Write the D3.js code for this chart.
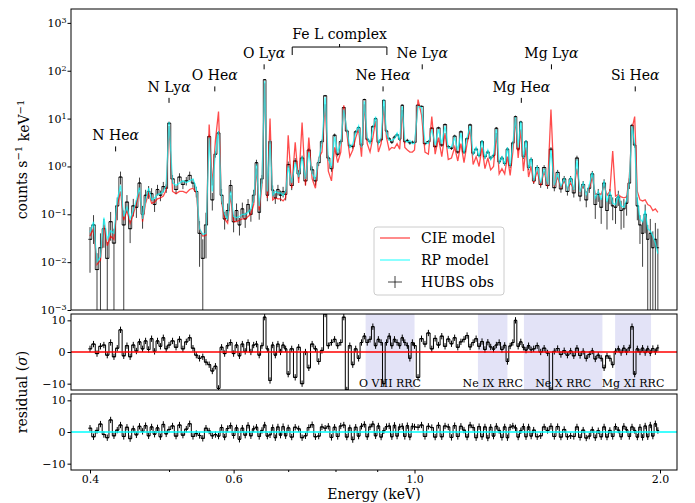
<!DOCTYPE html>
<html>
<head>
<meta charset="utf-8">
<script src="https://cdn.jsdelivr.net/npm/d3@7"></script>
<style>
  body { margin: 0; background: #fff; }
  text { font-family: 'DejaVu Serif', serif; fill: #000; }
</style>
</head>
<body>
<div id="visual"></div>
<script>
// channel energies (keV)
const energy = [
  0.400,0.404,0.408,0.412,0.416,0.420,0.424,0.428,0.432,0.436,0.440,0.444,0.448,0.452,0.456,0.460,0.464,0.468,0.472,0.476,0.480,0.484,0.488,0.492,0.496,
  0.500,0.505,0.510,0.515,0.520,0.525,0.530,0.535,0.540,0.545,0.550,0.555,0.560,0.565,0.570,0.575,0.580,0.585,0.590,0.595,0.600,0.605,0.610,0.615,0.620,0.625,0.630,0.635,0.640,0.645,0.650,0.655,0.660,0.665,0.670,0.675,0.680,0.685,0.690,0.695,
  0.700,0.707,0.714,0.721,0.728,0.735,0.742,0.749,0.756,0.763,0.770,0.777,0.784,0.791,0.798,0.805,0.812,0.819,0.826,0.833,0.840,0.847,0.854,0.861,0.868,0.875,0.882,0.889,0.896,0.903,0.910,0.917,0.924,0.931,0.938,0.945,0.952,0.959,0.966,0.973,0.980,0.987,0.994,
  1.00,1.01,1.02,1.03,1.04,1.05,1.06,1.07,1.08,1.09,1.10,1.11,1.12,1.13,1.14,1.15,1.16,1.17,1.18,1.19,1.20,1.21,1.22,1.23,1.24,1.25,1.26,1.27,1.28,1.29,1.30,1.31,1.32,1.33,1.34,1.35,1.36,1.37,1.38,1.39,
  1.400,1.414,1.428,1.442,1.456,1.470,1.484,1.498,1.512,1.526,1.540,1.554,1.568,1.582,1.596,1.610,1.624,1.638,1.652,1.666,1.680,1.694,1.708,1.722,1.736,1.750,1.764,1.778,1.792,1.806,1.820,1.834,1.848,1.862,1.876,1.890,1.904,1.918,1.932,1.946,1.960,1.974,1.988
];

// RP model (counts s^-1 keV^-1)
const rpModel = [
  0.042,0.070,0.010,0.013,0.085,0.030,0.045,0.040,0.20,0.40,0.09,0.14,0.08,0.12,0.20,0.36,0.08,0.20,0.35,0.20,0.22,0.26,0.27,0.30,0.40,
  8.5,0.46,0.40,0.45,0.50,0.46,0.50,0.55,0.35,0.05,0.038,0.040,4.0,0.30,2.0,5.5,0.20,0.10,0.08,0.30,0.09,0.085,0.09,0.10,0.10,0.11,0.13,0.20,1.1,0.15,0.50,60,0.30,3.5,0.25,0.30,0.28,0.28,0.25,0.30,
  1.0,0.45,1.2,0.60,1.6,0.55,2.0,0.70,0.55,1.4,3.0,28,1.4,1.0,4.2,2.0,3.0,15.5,6.0,2.5,3.0,5.0,7.0,2.5,23,4.0,3.0,6.0,11,3.0,4.0,25,5.0,3.5,3.5,3.8,5.0,3.5,18,3.5,3.2,3.5,3.0,
  3.0,18,17,3.2,3.0,6,2.8,6,3.0,7,2.4,2.6,4,2.2,5,1.9,4,7,1.8,2.5,1.6,3.5,1.5,2.2,1.4,1.8,6,1.2,1.6,1.1,2.5,1.0,3,10.6,2.5,8.7,1.5,3.5,0.9,1.5,
  0.5,1.0,0.45,0.9,0.42,2.2,0.40,0.7,0.38,0.55,0.34,0.6,0.32,1.4,0.29,0.45,0.26,0.4,0.75,0.22,0.3,0.2,0.5,0.18,0.3,0.17,0.16,0.25,0.15,0.14,0.2,0.5,7,3,0.2,0.08,0.07,0.12,0.05,0.045,0.035,0.025,0.015
];

// CIE model
const cieModel = [
  0.035,0.05,0.009,0.011,0.06,0.022,0.035,0.03,0.15,0.3,0.075,0.12,0.065,0.1,0.17,0.3,0.07,0.17,0.28,0.17,0.18,0.21,0.22,0.24,0.32,
  7.0,0.30,0.27,0.30,0.30,0.28,0.33,0.35,0.28,0.05,0.035,0.036,7.5,0.40,3.5,14,0.18,0.08,0.065,0.25,0.07,0.07,0.075,0.08,0.08,0.09,0.10,0.16,0.9,0.12,0.4,55,0.22,10,0.2,0.22,0.21,0.21,0.19,0.22,
  4.5,0.35,3.2,0.45,8.3,0.40,4.0,0.55,0.35,1.5,2.0,20,0.8,0.5,2.5,1.2,2.0,19,5.0,1.6,2.2,4.0,6.0,1.6,20,3.0,2.0,4.0,9,2.0,3.0,18,4.0,2.2,2.5,2.4,3.0,2.3,15,2.5,2.2,2.0,2.0,
  2.2,25,12,2.0,1.8,11,1.8,4,1.6,5,1.4,1.5,2.5,1.3,3,1.2,3,6,1.1,1.6,1.0,2.5,0.9,1.5,0.85,1.0,5,0.7,0.9,0.7,1.6,0.65,2,10,1.5,6,0.8,2.5,0.6,1.0,
  0.45,0.8,0.4,0.8,0.38,15.5,0.38,0.6,0.36,0.5,0.34,0.45,0.33,0.9,0.30,0.4,0.28,0.35,0.6,0.26,0.28,0.26,0.4,0.25,0.3,2.1,0.24,0.26,0.23,0.22,0.23,0.6,6,11,0.3,0.2,0.19,0.2,0.16,0.15,0.12,0.13,0.11
];

// HUBS observation and relative 1-sigma error
const hubsObs = [
  0.030,0.060,0.007,0.020,0.050,0.012,0.070,0.025,0.15,0.60,0.06,0.18,0.05,0.15,0.14,0.45,0.10,0.25,0.30,0.27,0.16,0.33,0.25,0.38,0.35,
  8.0,0.55,0.33,0.60,0.42,0.50,0.65,0.45,0.30,0.04,0.012,0.060,4.2,0.20,1.8,5.0,0.25,0.08,0.12,0.40,0.07,0.12,0.06,0.13,0.08,0.16,0.10,0.25,1.2,0.11,0.55,65,0.25,3.3,0.32,0.22,0.33,0.25,0.30,0.26,
  1.1,0.40,1.3,0.70,1.5,0.50,2.2,0.85,0.50,1.2,3.3,30,1.5,0.9,4.5,1.8,3.3,17,5.5,2.7,2.6,5.3,6.5,2.8,25,3.7,3.3,6.8,10,3.2,3.6,24,5.5,3.8,3.2,4.1,4.6,3.7,19,3.3,3.5,3.1,3.2,
  3.2,19,18,3.0,3.3,6.3,2.6,6.4,2.8,7.5,2.6,2.4,4.3,2.0,5.3,2.0,3.8,7.4,1.9,2.3,1.7,3.3,1.6,2.0,1.5,1.7,6.3,1.25,1.5,1.15,2.3,1.05,3.1,11,2.3,8.5,1.6,3.3,0.95,1.4,
  0.5,0.95,0.42,0.95,0.40,2.3,0.36,0.75,0.34,0.55,0.30,0.55,0.28,1.5,0.24,0.42,0.20,0.35,0.70,0.16,0.26,0.14,0.45,0.12,0.25,0.15,0.14,0.23,0.12,0.13,0.17,0.45,7.2,2.8,0.15,0.06,0.04,0.10,0.03,0.04,0.02,0.03,0.02
];
const hubsErr = [
  0.8,0.6,1.2,1.0,0.6,1.2,0.6,1.0,0.5,0.3,1.0,0.4,0.5,0.4,0.4,0.3,0.5,0.3,0.3,0.3,0.3,0.25,0.25,0.25,0.2,
  0.08,0.2,0.2,0.2,0.2,0.2,0.2,0.2,0.25,0.8,1.5,0.8,0.1,0.4,0.15,0.1,0.35,0.4,0.4,0.3,0.4,0.4,0.4,0.35,0.35,0.3,0.3,0.3,0.15,0.3,0.2,0.03,0.25,0.1,0.25,0.25,0.25,0.25,0.25,0.25,
  0.15,0.2,0.15,0.2,0.12,0.2,0.12,0.18,0.2,0.15,0.1,0.04,0.12,0.14,0.08,0.1,0.1,0.05,0.07,0.1,0.1,0.08,0.07,0.1,0.04,0.08,0.09,0.07,0.06,0.09,0.08,0.04,0.07,0.08,0.08,0.08,0.07,0.08,0.04,0.08,0.08,0.08,0.08,
  0.08,0.04,0.04,0.08,0.08,0.06,0.08,0.06,0.08,0.06,0.08,0.08,0.07,0.08,0.07,0.09,0.07,0.06,0.09,0.08,0.09,0.08,0.1,0.09,0.1,0.09,0.06,0.1,0.1,0.1,0.08,0.11,0.08,0.05,0.08,0.06,0.1,0.08,0.12,0.1,
  0.14,0.12,0.15,0.12,0.15,0.1,0.16,0.13,0.17,0.15,0.18,0.15,0.2,0.12,0.22,0.18,0.3,0.2,0.15,0.5,0.3,0.55,0.2,0.6,0.35,0.5,0.55,0.35,0.6,0.6,0.45,0.25,0.08,0.12,0.5,0.6,0.8,0.6,1.0,1.0,1.2,1.2,1.5
];

// residuals in sigma
const resCie = [
  1.0,2.5,-0.5,1.8,2.2,-1.0,3.0,-1.5,1.2,7.0,-1.2,2.0,-1.5,2.2,0.3,3.2,1.0,3.5,0.8,4.2,0.2,3.5,1.8,4.5,1.0,
  2.2,3.5,1.5,4.0,1.0,3.2,4.5,1.2,-1.0,-2.0,-1.5,-3.2,-4.0,-6.0,-4.5,-11.5,1.5,-0.5,2.0,3.0,-0.5,2.2,-1.2,2.5,0.2,3.0,0.0,2.2,2.5,-1.0,2.0,11.0,1.0,-9.0,2.2,-1.0,2.5,0.0,2.2,1.0,
  -7.0,1.0,-8.0,1.5,-10.0,0.0,-5.0,2.5,1.0,-3.0,0.5,12.0,2.0,3.0,4.0,2.0,3.0,11.0,-12.0,2.0,-4.0,1.0,-2.0,3.0,5.0,3.0,4.0,8.0,2.0,4.0,3.0,-10.0,3.0,5.0,2.0,4.0,3.0,2.0,4.5,3.0,2.0,-2.0,3.0,
  2.0,-8.0,4.2,2.5,6.0,1.0,4.3,2.2,5.0,1.8,4.1,2.6,4.5,1.5,3.2,4.0,5.2,1.6,3.0,4.2,1.8,3.3,0.8,3.1,1.6,0.9,2.2,3.0,0.8,2.1,-3.0,1.9,3.0,10.0,1.8,3.2,1.5,0.6,2.0,0.7,
  1.0,2.0,0.0,1.2,-0.3,-12.0,0.2,1.1,-0.8,0.4,-1.0,0.3,-1.2,1.2,-1.1,0.2,-2.0,-0.8,0.3,-2.2,-1.0,-2.0,-5.0,-1.2,-2.0,-4.0,0.2,1.0,-0.2,1.2,0.0,1.3,8.0,-7.0,1.0,0.0,1.2,-0.2,1.0,-0.3,1.1,0.1,1.3
];
const resRp = [
  1.2,-1.5,0.5,2.5,-0.8,-1.8,3.8,-1.2,0.6,2.2,-1.4,1.5,-2.1,1.0,-0.9,1.8,0.2,2.0,-1.2,1.6,-0.7,1.3,-1.5,2.4,-0.6,
  0.8,1.9,-1.3,2.2,-1.0,0.9,2.6,-1.4,-0.5,-1.1,-2.0,1.2,0.3,-1.2,-0.8,-1.3,1.4,-1.6,1.1,2.0,-1.1,1.3,-2.3,1.2,-1.0,2.1,-1.2,1.0,1.5,-1.4,0.5,2.2,-1.3,-0.9,1.4,-1.8,1.6,-1.0,1.7,-1.2,
  1.3,-1.6,1.5,1.0,-1.8,-1.2,1.4,2.3,-1.5,-1.3,1.6,1.2,1.8,-1.7,1.5,-1.4,1.9,2.2,-1.6,1.3,-2.4,1.5,-1.3,1.8,2.4,-1.5,1.6,2.5,-1.2,1.9,-1.6,0.4,1.7,1.9,-1.5,2.1,-1.3,1.6,1.8,-1.4,2.0,-1.6,1.8,
  1.6,1.5,2.2,-1.4,1.8,1.4,-1.6,2.1,-1.5,1.9,1.6,-1.7,2.0,-1.4,1.8,0.6,-1.6,2.2,1.4,-1.8,1.7,-1.5,1.6,-1.9,1.5,-1.3,1.8,0.5,-1.7,1.6,-1.8,1.5,1.9,1.3,-1.6,0.4,1.7,-1.5,1.6,-1.3,
  0.6,-1.5,-1.2,1.6,0.5,1.8,-1.4,1.7,-1.6,0.8,-1.5,-1.2,-1.4,1.6,-1.7,0.6,-1.9,-1.3,0.7,-1.8,0.4,-1.5,1.6,-1.6,0.5,-1.4,1.7,0.6,-1.5,1.8,0.7,-1.4,1.6,0.5,-1.6,1.5,-1.7,1.9,-1.5,2.2,-1.3,2.6,0.5
];

// line identifications
const lineNames = ["N He", "N Ly", "O He", "O Ly", "Ne He", "Ne Ly", "Mg He", "Mg Ly", "Si He"];
const lineEnergy = [0.430, 0.500, 0.569, 0.654, 0.915, 1.022, 1.352, 1.472, 1.865];
const lineLevel = [2.06, 21.3, 37, 107, 37, 107, 21.3, 107, 37];   // counts, foot of the marker
const feLRange = [0.708, 0.925];
const feLLevel = 313;

// RRC bands in the CIE residual panel
const rrcNames = ["O VIII RRC", "Ne IX RRC", "Ne X RRC", "Mg XI RRC"];
const rrcStart = [0.871, 1.196, 1.362, 1.762];
const rrcEnd = [1.000, 1.300, 1.700, 1.950];

const xTicks = [0.4, 0.6, 1.0, 2.0];
const xMinor = [0.5, 0.7, 0.8, 0.9];
const yDecades = [1e-3, 1e-2, 1e-1, 1, 10, 100, 1000];
const yExp = ["\u22123", "\u22122", "\u22121", "0", "1", "2", "3"];
const resTicks = [-10, 0, 10];

// layout
const W = 695, H = 503;
const L = 71, R = 677;
const main = { top: 9, bot: 310 };
const p1 = { top: 314, bot: 390 };
const p2 = { top: 394, bot: 470 };
const font = "'DejaVu Serif', serif";

const svg = d3.select("#visual").append("svg").attr("width", W).attr("height", H);

const x = d3.scaleLog().domain([0.4, 2.0]).range([90, 660]);
const y = d3.scaleLog().domain([1e-3, 1950]).range([main.bot, main.top]);
const yr1 = d3.scaleLinear().domain([-12, 12]).range([p1.bot, p1.top]);
const yr2 = d3.scaleLinear().domain([-12, 12]).range([p2.bot, p2.top]);

// bin edges from the channel grid
const n = energy.length;
const binLo = energy.map((e, i) => i > 0 ? (energy[i - 1] + e) / 2 : e - (energy[1] - e) / 2);
const binHi = energy.map((e, i) => i < n - 1 ? (e + energy[i + 1]) / 2 : e + (e - energy[i - 1]) / 2);

function clipFor(id, p) {
    svg.append("clipPath").attr("id", id).append("rect")
        .attr("x", L).attr("y", p.top).attr("width", R - L).attr("height", p.bot - p.top);
    return svg.append("g").attr("clip-path", `url(#${id})`);
}

// main spectrum
const gMain = clipFor("clipMain", main);

let pathObs = "";
hubsObs.forEach((v, i) => {
    const lo = v * (1 - hubsErr[i]);
    const hi = v * (1 + hubsErr[i]);
    const xp = x(energy[i]);
    const y1 = lo > 0 ? y(lo) : main.bot + 5;
    pathObs += `M${xp},${y1}V${y(hi)}M${x(binLo[i])},${y(v)}H${x(binHi[i])}`;
});
gMain.append("path").attr("d", pathObs)
    .attr("fill", "none").attr("stroke", "#000").attr("stroke-width", 1).attr("stroke-opacity", 0.75);
// step trace through the data to keep the noisy band continuous
const obsStep = d3.line().curve(d3.curveStep).x((d, i) => x(energy[i])).y(d => y(d));
gMain.append("path").datum(hubsObs).attr("d", obsStep)
    .attr("fill", "none").attr("stroke", "#000").attr("stroke-width", 1).attr("stroke-opacity", 0.75);

const modelLine = d3.line().x((d, i) => x(energy[i])).y(d => y(d));
gMain.append("path").datum(cieModel).attr("d", modelLine)
    .attr("fill", "none").attr("stroke", "#ff0000").attr("stroke-width", 1.3).attr("stroke-opacity", 0.7);
gMain.append("path").datum(rpModel).attr("d", modelLine)
    .attr("fill", "none").attr("stroke", "#00ffff").attr("stroke-width", 1.3).attr("stroke-opacity", 0.7);

// residual panels
function drawResiduals(g, res, ys) {
    let d = "";
    res.forEach((r, i) => {
        const xp = x(energy[i]);
        d += `M${xp},${ys(r - 1)}V${ys(r + 1)}M${x(binLo[i])},${ys(r)}H${x(binHi[i])}`;
    });
    g.append("path").attr("d", d).attr("fill", "none").attr("stroke", "#000").attr("stroke-width", 1);
    const step = d3.line().curve(d3.curveStep).x((v, i) => x(energy[i])).y(v => ys(v));
    g.append("path").datum(res).attr("d", step).attr("fill", "none").attr("stroke", "#000").attr("stroke-width", 1);
}

const g1 = clipFor("clipR1", p1);
g1.selectAll("rect.rrc").data(rrcStart).enter().append("rect")
    .attr("class", "rrc")
    .attr("x", d => x(d)).attr("y", p1.top)
    .attr("width", (d, i) => x(rrcEnd[i]) - x(d)).attr("height", p1.bot - p1.top)
    .attr("fill", "#e3e3f7");
drawResiduals(g1, resCie, yr1);
g1.append("line").attr("x1", L).attr("x2", R).attr("y1", yr1(0)).attr("y2", yr1(0))
    .attr("stroke", "#ff0000").attr("stroke-width", 1.3);
g1.selectAll("text.rrc").data(rrcNames).enter().append("text")
    .attr("x", (d, i) => x(Math.sqrt(rrcStart[i] * rrcEnd[i])))
    .attr("y", p1.bot - 3.5)
    .attr("text-anchor", "middle").attr("font-size", 11).attr("font-family", font)
    .text(d => d);

const g2 = clipFor("clipR2", p2);
drawResiduals(g2, resRp, yr2);
g2.append("line").attr("x1", L).attr("x2", R).attr("y1", yr2(0)).attr("y2", yr2(0))
    .attr("stroke", "#00ffff").attr("stroke-width", 1.3);

// frames
[main, p1, p2].forEach(p => {
    svg.append("rect").attr("x", L).attr("y", p.top).attr("width", R - L).attr("height", p.bot - p.top)
        .attr("fill", "none").attr("stroke", "#000").attr("stroke-width", 1);
});

// y axes
const gy = svg.append("g").attr("transform", `translate(${L},0)`)
    .call(d3.axisLeft(y).tickValues(yDecades).tickSize(3.5).tickFormat(""));
gy.select(".domain").remove();
gy.selectAll(".tick").each(function(d, i) {
    const t = d3.select(this).append("text")
        .attr("x", -4.5).attr("dy", "0.32em").attr("text-anchor", "end")
        .attr("font-size", 11).attr("font-family", font).attr("fill", "#000");
    t.append("tspan").text("10");
    t.append("tspan").attr("dy", "-0.45em").attr("font-size", 8).text(yExp[i]);
});

[[yr1], [yr2]].forEach(([ys]) => {
    const ga = svg.append("g").attr("transform", `translate(${L},0)`)
        .call(d3.axisLeft(ys).tickValues(resTicks).tickSize(3.5).tickPadding(2));
    ga.select(".domain").remove();
    ga.selectAll("text").attr("font-size", 11).attr("font-family", font).attr("fill", "#000");
});

// x axis
const gx = svg.append("g").attr("transform", `translate(0,${p2.bot})`)
    .call(d3.axisBottom(x).tickValues(xTicks).tickSize(3.5).tickPadding(2).tickFormat(d3.format(".1f")));
gx.select(".domain").remove();
gx.selectAll("text").attr("font-size", 11).attr("font-family", font).attr("fill", "#000");
const gxm = svg.append("g").attr("transform", `translate(0,${p2.bot})`)
    .call(d3.axisBottom(x).tickValues(xMinor).tickSize(2).tickFormat(""));
gxm.select(".domain").remove();

// axis labels
svg.append("text").attr("x", (L + R) / 2).attr("y", 494).attr("dy", "0.35em")
    .attr("text-anchor", "middle").attr("font-size", 14).attr("font-family", font)
    .text("Energy (keV)");

const yl = svg.append("text").attr("transform", `translate(22,${(main.top + main.bot) / 2}) rotate(-90)`)
    .attr("dy", "0.35em").attr("text-anchor", "middle").attr("font-size", 14).attr("font-family", font);
yl.append("tspan").text("counts s");
yl.append("tspan").attr("dy", "-0.45em").attr("font-size", 10).text("\u22121");
yl.append("tspan").attr("dy", "0.45em").text(" keV");
yl.append("tspan").attr("dy", "-0.45em").attr("font-size", 10).text("\u22121");

const rl = svg.append("text").attr("transform", `translate(22,${(p1.top + p2.bot) / 2}) rotate(-90)`)
    .attr("dy", "0.35em").attr("text-anchor", "middle").attr("font-size", 14).attr("font-family", font);
rl.append("tspan").text("residual (");
rl.append("tspan").attr("font-style", "italic").text("\u03c3");
rl.append("tspan").text(")");

// line identifications
const gAnn = svg.append("g");
lineNames.forEach((name, i) => {
    const xp = x(lineEnergy[i]);
    const yb = y(lineLevel[i]);
    gAnn.append("line").attr("x1", xp).attr("x2", xp).attr("y1", yb).attr("y2", yb - 5)
        .attr("stroke", "#000").attr("stroke-width", 1);
    const t = gAnn.append("text").attr("x", xp).attr("y", yb - 16).attr("dy", "0.35em")
        .attr("text-anchor", "middle").attr("font-size", 14).attr("font-family", font);
    t.append("tspan").text(name);
    t.append("tspan").attr("font-style", "italic").text("\u03b1");
});
const fx0 = x(feLRange[0]), fx1 = x(feLRange[1]), fy = y(feLLevel);
const fxm = x(Math.sqrt(feLRange[0] * feLRange[1]));
gAnn.append("path").attr("d", `M${fx0},${fy + 8}V${fy}H${fx1}V${fy + 8}M${fxm},${fy}V${fy - 3}`)
    .attr("fill", "none").attr("stroke", "#000").attr("stroke-width", 1);
gAnn.append("text").attr("x", fxm).attr("y", fy - 13).attr("dy", "0.35em")
    .attr("text-anchor", "middle").attr("font-size", 14).attr("font-family", font)
    .text("Fe L complex");

// legend
const lg = svg.append("g").attr("transform", "translate(374,227)");
lg.append("rect").attr("width", 130).attr("height", 68).attr("rx", 3)
    .attr("fill", "#fff").attr("fill-opacity", 0.8).attr("stroke", "#cccccc");
const legendItems = ["CIE model", "RP model", "HUBS obs"];
legendItems.forEach((lab, i) => {
    const yy = 11 + i * 22;
    if (i === 0) lg.append("line").attr("x1", 6).attr("x2", 36).attr("y1", yy).attr("y2", yy)
        .attr("stroke", "#ff0000").attr("stroke-opacity", 0.7).attr("stroke-width", 1.3);
    if (i === 1) lg.append("line").attr("x1", 6).attr("x2", 36).attr("y1", yy).attr("y2", yy)
        .attr("stroke", "#00ffff").attr("stroke-opacity", 0.7).attr("stroke-width", 1.3);
    if (i === 2) lg.append("path").attr("d", `M14,${yy}H28M21,${yy - 6}V${yy + 6}`)
        .attr("stroke", "#000").attr("stroke-opacity", 0.75).attr("stroke-width", 1);
    lg.append("text").attr("x", 47).attr("y", yy).attr("dy", "0.35em")
        .attr("font-size", 14).attr("font-family", font).text(lab);
});
</script>
</body>
</html>
